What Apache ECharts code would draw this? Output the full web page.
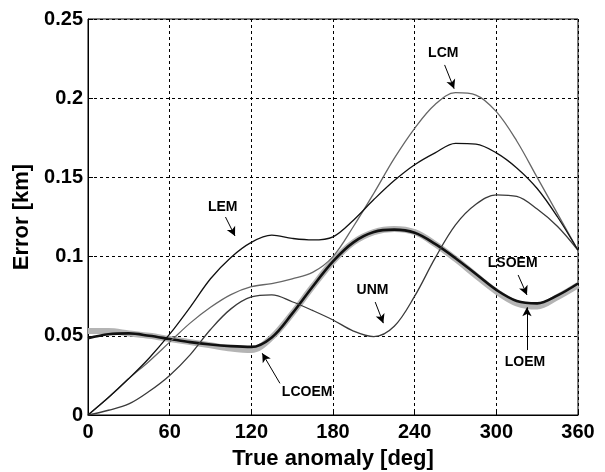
<!DOCTYPE html>
<html>
<head>
<meta charset="utf-8">
<script src="https://cdn.jsdelivr.net/npm/echarts@6/dist/echarts.min.js"></script>
<style>
  html, body { margin: 0; padding: 0; background: #fff; }
  #chart { width: 605px; height: 472px; }
</style>
</head>
<body>
<div id="chart"></div>
<script>
// true anomaly [deg]
var anomaly = [0, 15, 30, 45, 60, 75, 90, 105, 120, 135, 150, 165, 180,
               195, 210, 225, 240, 255, 270, 285, 300, 315, 330, 345, 360];

// error [km]
var lem   = [0, 0.011, 0.023, 0.036, 0.051, 0.068, 0.086, 0.0995, 0.109, 0.1135, 0.1115, 0.1105, 0.1125,
             0.123, 0.136, 0.148, 0.158, 0.1655, 0.1715, 0.171, 0.1655, 0.156, 0.143, 0.125, 0.104];
var lcm   = [0, 0.011, 0.023, 0.034, 0.046, 0.058, 0.068, 0.076, 0.081, 0.083, 0.086, 0.09, 0.1,
             0.119, 0.14, 0.162, 0.181, 0.196, 0.2035, 0.202, 0.1915, 0.173, 0.15, 0.127, 0.104];
var unm   = [0, 0.003, 0.007, 0.015, 0.025, 0.038, 0.054, 0.067, 0.0745, 0.0758, 0.0715, 0.066, 0.06,
             0.053, 0.0495, 0.056, 0.075, 0.099, 0.12, 0.133, 0.139, 0.138, 0.13, 0.119, 0.104];
var loem  = [0.053, 0.053, 0.0515, 0.05, 0.048, 0.046, 0.044, 0.042, 0.041, 0.049, 0.064, 0.081, 0.097,
             0.109, 0.1155, 0.1175, 0.1155, 0.108, 0.0985, 0.088, 0.078, 0.0705, 0.0685, 0.0745, 0.082];
var lsoem = [0.0485, 0.051, 0.0515, 0.05, 0.048, 0.046, 0.0445, 0.0435, 0.043, 0.049, 0.064, 0.081, 0.097,
             0.109, 0.1155, 0.117, 0.115, 0.108, 0.099, 0.089, 0.079, 0.072, 0.0705, 0.0755, 0.083];

// labels: name, text position, arrow start, arrow end (data coords)
var notes = [
    ['LEM',   [99, 0.131],   [101, 0.125],   [108, 0.113]],
    ['LCM',   [261, 0.2285], [262, 0.221],   [269, 0.206]],
    ['UNM',   [209, 0.079],  [211, 0.0713],  [217, 0.058]],
    ['LSOEM', [312, 0.096],  [316, 0.0884],  [322.5, 0.0758]],
    ['LOEM',  [321, 0.0335], [322.5, 0.041], [322.5, 0.068]],
    ['LCOEM', [161, 0.0145], [141, 0.020],   [128, 0.039]]
];

function pairs(ys) {
    return anomaly.map(function (x, i) { return [x, ys[i]]; });
}

function curve(name, ys, color, width) {
    return {
        name: name,
        type: 'line',
        data: pairs(ys),
        smooth: 0.35,
        showSymbol: false,
        silent: true,
        lineStyle: { color: color, width: width }
    };
}

var font = 'Liberation Sans, Arial, sans-serif';

var chartDom = document.getElementById('chart');
var myChart = echarts.init(chartDom);

var series = [
    curve('LOEM', loem, '#b4b4b4', 6),
    curve('LSOEM', lsoem, '#111', 2.6),
    curve('UNM', unm, '#3a3a3a', 1.3),
    curve('LCM', lcm, '#666', 1.3),
    curve('LEM', lem, '#111', 1.3),
    {
        name: 'notes',
        type: 'line',
        data: [],
        silent: true,
        markLine: {
            silent: true,
            animation: false,
            symbol: ['none', 'arrow'],
            symbolSize: [7, 9],
            label: { show: false },
            lineStyle: { color: '#000', width: 1, type: 'solid' },
            data: notes.map(function (n) {
                return [{ coord: n[2] }, { coord: n[3] }];
            })
        },
        markPoint: {
            silent: true,
            animation: false,
            symbol: 'circle',
            symbolSize: 0,
            label: {
                show: true,
                position: 'inside',
                formatter: function (p) { return p.name; },
                color: '#000',
                fontFamily: font,
                fontWeight: 'bold',
                fontSize: 14
            },
            data: notes.map(function (n) {
                return { name: n[0], coord: n[1] };
            })
        }
    }
];

var option = {
    backgroundColor: '#fff',
    animation: false,
    grid: {
        left: 88, right: 27, top: 19, bottom: 57,
        outerBoundsMode: 'none',
        containLabel: false,
        show: true, borderColor: '#000', borderWidth: 1
    },
    xAxis: {
        type: 'value',
        min: 0, max: 360, interval: 60,
        name: 'True anomaly [deg]',
        nameLocation: 'middle',
        nameGap: 33,
        nameTextStyle: { color: '#000', fontFamily: font, fontWeight: 'bold', fontSize: 22 },
        axisLine: { show: true, lineStyle: { color: '#000', width: 1 } },
        axisTick: { show: true, inside: true, length: 5, lineStyle: { color: '#000' } },
        axisLabel: { color: '#000', fontFamily: font, fontWeight: 'bold', fontSize: 20, margin: 7 },
        splitLine: { show: true, lineStyle: { color: '#000', width: 1, type: [3, 3] } }
    },
    yAxis: {
        type: 'value',
        min: 0, max: 0.25, interval: 0.05,
        name: 'Error [km]',
        nameLocation: 'middle',
        nameGap: 50,
        nameTextStyle: { color: '#000', fontFamily: font, fontWeight: 'bold', fontSize: 22 },
        axisLine: { show: true, lineStyle: { color: '#000', width: 1 } },
        axisTick: { show: true, inside: true, length: 5, lineStyle: { color: '#000' } },
        axisLabel: { color: '#000', fontFamily: font, fontWeight: 'bold', fontSize: 20, margin: 5 },
        splitLine: { show: true, lineStyle: { color: '#000', width: 1, type: [3, 3] } }
    },
    series: series
};

myChart.setOption(option);
</script>
</body>
</html>
